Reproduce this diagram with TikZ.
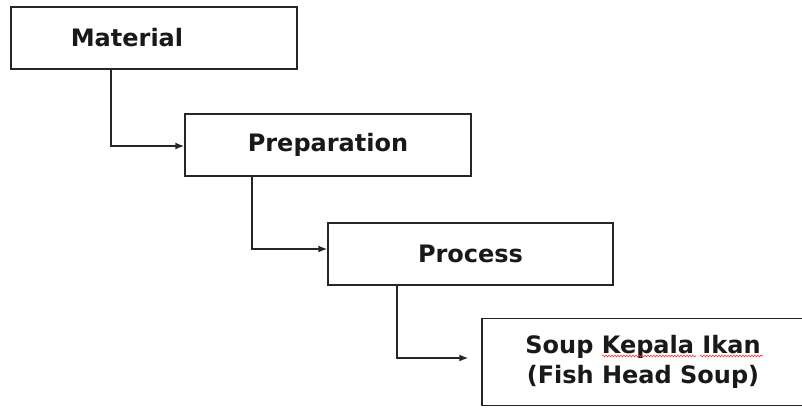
\documentclass[tikz,border=0pt]{standalone}
\usepackage{fontspec}
\setmainfont{DejaVu Sans}
\usetikzlibrary{arrows.meta,decorations.pathmorphing}
\begin{document}
\begin{tikzpicture}[x=1pt,y=-1pt,
  stagebox/.style={draw=black!85,line width=1.4pt,fill=white,inner sep=0pt},
  label/.style={font=\bfseries\fontsize{24}{30}\selectfont,text=black!90,align=center},
  link/.style={draw=black!85,line width=1.4pt,-{Latex[length=9pt,width=7pt]}},
  spell/.style={draw=red!80!white,line width=0.6pt,decorate,decoration={snake,amplitude=0.9pt,segment length=3pt}}]
\useasboundingbox (0,0) rectangle (802,409);
% stage boxes
\node[stagebox,minimum width=286pt,minimum height=62pt] (mat) at (154,38) {};
\node[label] (matt) at (127,38) {Material};
\node[stagebox,minimum width=286pt,minimum height=62pt,label] (prep) at (328,145) {Preparation};
\node[stagebox,minimum width=285pt,minimum height=62pt,label] (proc) at (470.5,254) {Process};
\node[stagebox,minimum width=322pt,minimum height=87pt,label] (soup) at (643,362) {Soup Kepala Ikan\\(Fish Head Soup)};
% spelling marks under the Malay words
\draw[spell] (602,356) -- (696,356);
\draw[spell] (700,356) -- (763,356);
% connectors
\coordinate (c1) at (111,146);
\coordinate (c2) at (252,249);
\coordinate (c3) at (397,358);
\draw[link] (mat.south -| c1) |- (prep.west |- c1);
\draw[link] (prep.south -| c2) |- (proc.west |- c2);
\draw[link] (proc.south -| c3) |- ([xshift=-13pt]soup.west |- c3);
\end{tikzpicture}
\end{document}
